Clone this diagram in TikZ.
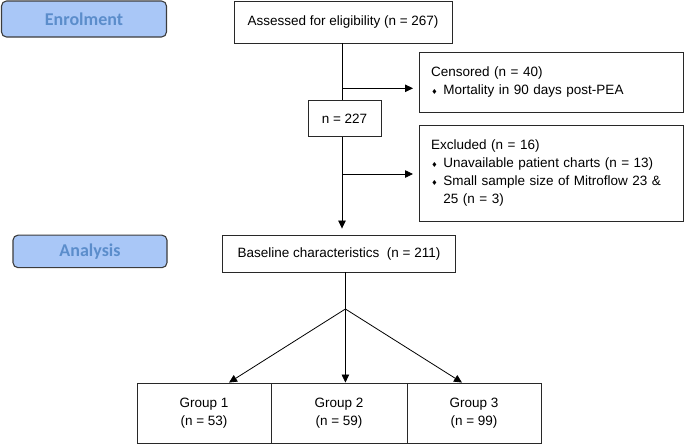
\documentclass[tikz,border=0pt]{standalone}
\usepackage{fontspec}
\setmainfont{Liberation Sans}
\newfontfamily\hdrfont{Carlito}
\newfontfamily\symfont{DejaVu Sans}
\usetikzlibrary{arrows.meta}
\definecolor{hdrfill}{RGB}{169,199,247}
\definecolor{hdrtext}{RGB}{91,141,203}
\definecolor{hdrline}{RGB}{60,60,60}
\definecolor{boxline}{RGB}{40,40,40}
\newcommand\dmd{\makebox[12.3pt][l]{\hspace{0.2pt}{\symfont\fontsize{7}{7}\selectfont ♦}}}
\begin{document}
\begin{tikzpicture}[x=1pt,y=-1pt,
  box/.style={draw=boxline, line width=0.9pt, rectangle, inner sep=0pt, align=center,
    font=\fontsize{13.5}{18}\selectfont},
  listbox/.style={box, align=left, anchor=west, inner xsep=11.7pt, text width=240.6pt},
  hdr/.style={draw=hdrline, fill=hdrfill, line width=1.1pt, rounded corners=5pt,
    inner sep=0pt, text=hdrtext, font=\hdrfont\bfseries\fontsize{18}{20}\selectfont},
  conn/.style={line width=0.8pt, black},
  arr/.style={conn, -{Triangle[length=8pt,width=7.5pt]}}]
\useasboundingbox (0,0) rectangle (685,445);

% stage headers
\node[hdr, minimum width=165pt, minimum height=36pt] (enrol) at (84,19) {Enrolment};
\node[hdr, minimum width=154pt, minimum height=32.5pt] (anal) at (90,251.4) {Analysis};

% boxes
\node[box, minimum width=218pt, minimum height=42pt] (assess) at (343,22) {Assessed for eligibility (n = 267)};
\node[listbox, minimum height=60pt] (cens) at (419,82) {Censored (n = 40)\\ \dmd Mortality in 90 days post-PEA};
\node[box, minimum width=73pt, minimum height=36.7pt] (n227) at (344.5,118.3) {n = 227};
\node[listbox, minimum height=96.7pt] (excl) at (419,173.3) {Excluded (n = 16)\\ \dmd Unavailable patient charts (n = 13)\\ \dmd Small sample size of Mitroflow 23 \&\\ \hphantom{\dmd}25 (n = 3)};
\node[box, minimum width=232.8pt, minimum height=37pt] (base) at (339,253.5) {Baseline characteristics\ \ (n = 211)};
\node[box, minimum width=134pt, minimum height=60pt] (g1) at (204,413) {Group 1\\(n = 53)};
\node[box, minimum width=136pt, minimum height=60pt] (g2) at (339,413) {Group 2\\(n = 59)};
\node[box, minimum width=134pt, minimum height=60pt] (g3) at (474,413) {Group 3\\(n = 99)};

% helper coordinates
\coordinate (xa) at (342,0);
\coordinate (xb) at (345.4,0);
\coordinate (ya) at (0,88.3);
\coordinate (yb) at (0,174);
\coordinate (split) at (345.4,309);
\coordinate (t1) at (229,0);
\coordinate (t3) at (462,0);

% connectors
\draw[conn] (assess.south -| xa) -- (n227.north -| xa);
\draw[arr, shorten >=6pt] (n227.south -| xa) -- (base.north -| xa);
\draw[arr, shorten >=6pt] (xa |- ya) -- (cens.west |- ya);
\draw[arr, shorten >=6pt] (xa |- yb) -- (excl.west |- yb);
\draw[conn] (base.south -| xb) -- (split);
\draw[arr] (split) -- (g1.north -| t1);
\draw[arr] (split) -- (g2.north -| xb);
\draw[arr] (split) -- (g3.north -| t3);
\end{tikzpicture}
\end{document}
